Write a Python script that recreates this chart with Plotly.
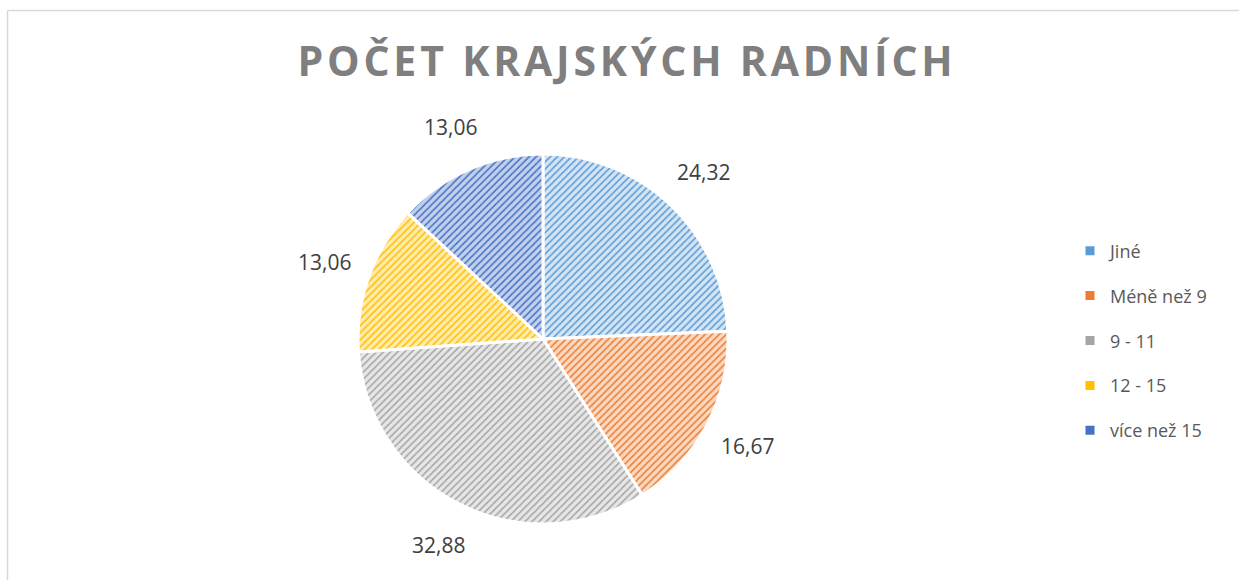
import numpy as np
import plotly.graph_objects as go

labels = ["Jiné", "Méně než 9", "9 - 11", "12 - 15", "více než 15"]
values = [24.32, 16.67, 32.88, 13.06, 13.06]
colors = ["#5B9BD5", "#ED7D31", "#A5A5A5", "#FFC000", "#4472C4"]
tints = ["#D3E4F4", "#FAD8C1", "#E6E6E6", "#FFEBAD", "#C3D0EC"]
title_text = "POČET KRAJSKÝCH RADNÍCH"

W, H = 1239, 580
cx, cy, R = 543, 339, 185
FONT = "Open Sans"

fig = go.Figure()
fig.add_trace(go.Pie(
    labels=labels, values=values, sort=False, direction="clockwise", rotation=0,
    textinfo="none", hoverinfo="label+value", showlegend=False,
    domain=dict(x=[(cx - R) / W, (cx + R) / W], y=[1 - (cy + R) / H, 1 - (cy - R) / H]),
    marker=dict(colors=colors, line=dict(color="white", width=3),
                pattern=dict(shape="/", fgcolor=colors, bgcolor=tints, size=5,
                             solidity=0.3, fillmode="replace")),
))

# data labels placed outside along each slice's mid-angle
vals = np.array(values)
frac = vals / vals.sum()
mids = np.cumsum(frac) - frac / 2
k = 1.25
annotations = []
for v, m in zip(values, mids):
    th = 2 * np.pi * m
    px = cx + k * R * np.sin(th)
    py = cy - k * R * np.cos(th)
    annotations.append(dict(
        x=px / W, y=1 - py / H, xref="paper", yref="paper", showarrow=False,
        text=f"{v:.2f}".replace(".", ","), xanchor="center", yanchor="middle",
        font=dict(family=FONT, size=21, color="#404040"),
    ))

# legend entries
for lab, c in zip(labels, colors):
    fig.add_trace(go.Scatter(
        x=[None], y=[None], mode="markers", name=lab, legendgroup=lab,
        marker=dict(symbol="square", size=9, color=c), showlegend=True,
        hoverinfo="skip",
    ))

fig.update_layout(
    width=W, height=H,
    margin=dict(l=0, r=0, t=0, b=0),
    paper_bgcolor="white", plot_bgcolor="white",
    separators=", ",
    xaxis=dict(visible=False), yaxis=dict(visible=False),
    title=dict(
        text=f'<span style="letter-spacing:3.8px">{title_text}</span>',
        x=627 / W, xanchor="center", y=1 - 62 / H, yanchor="middle",
        xref="paper", yref="container",
        font=dict(family=FONT, size=41, color="#7F7F7F", weight="bold"),
    ),
    legend=dict(
        x=1070 / W, xanchor="left", y=1 - 340.5 / H, yanchor="middle",
        tracegroupgap=18.5, font=dict(family=FONT, size=18, color="#595959"),
        bgcolor="rgba(0,0,0,0)",
    ),
    annotations=annotations,
    shapes=[
        dict(type="line", xref="paper", yref="paper", x0=7.5 / W, x1=1.0,
             y0=1 - 10.5 / H, y1=1 - 10.5 / H, line=dict(color="#D9D9D9", width=1.5)),
        dict(type="line", xref="paper", yref="paper", x0=7.5 / W, x1=7.5 / W,
             y0=1 - 10.5 / H, y1=0, line=dict(color="#D9D9D9", width=1.5)),
    ],
)

fig.write_html("out.html", config={"displayModeBar": False},
               post_script="document.body.style.margin='0';")
